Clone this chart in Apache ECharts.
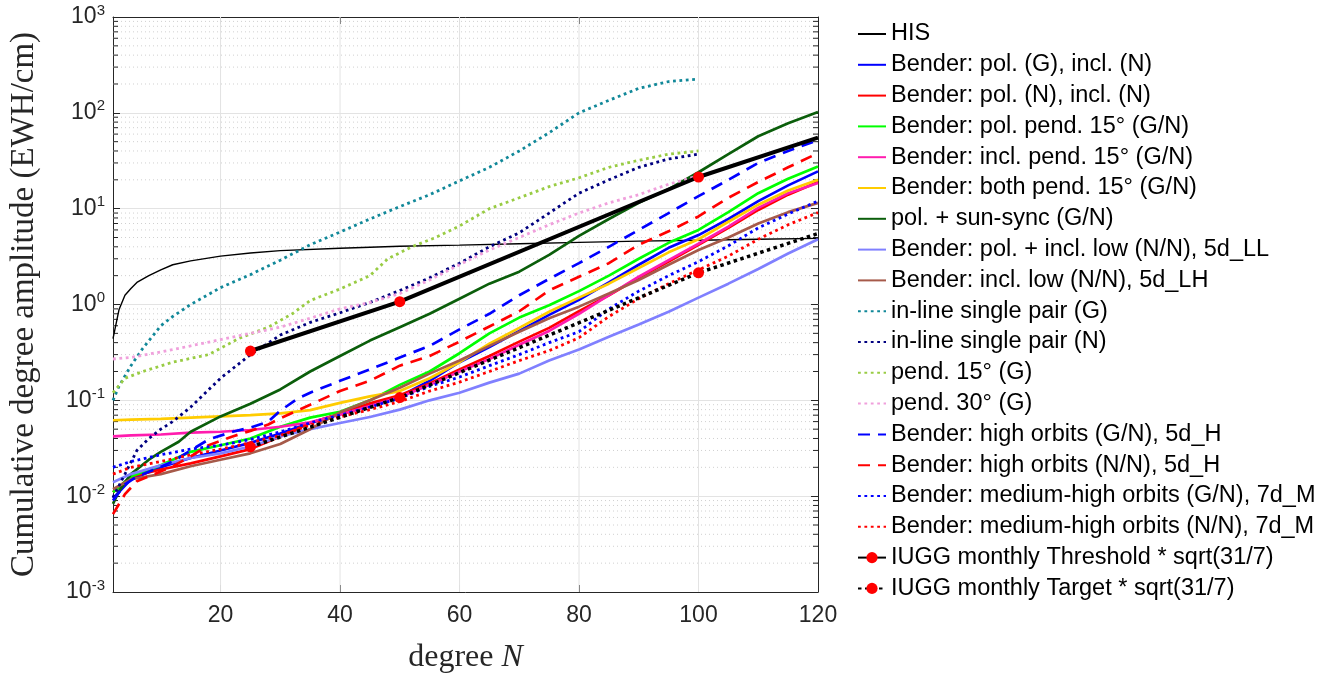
<!DOCTYPE html>
<html>
<head>
<meta charset="utf-8">
<script src="https://cdn.jsdelivr.net/npm/echarts@6/dist/echarts.min.js"></script>
<style>html,body{margin:0;padding:0;background:#fff;}#c{width:1342px;height:679px;}</style>
</head>
<body>
<div id="c"></div>
<script>
// ---------- data ----------
const xTicks = [20, 40, 60, 80, 100, 120];
const yDecades = [0.001, 0.01, 0.1, 1, 10, 100, 1000];

const N5 = [2,5,10,15,20,25,30,35,40,45,50,55,60,65,70,75,80,85,90,95,100,105,110,115,120];

const nHIS = [2,3,4,5,6,8,10,12,15,20,25,30,40,50,60,70,80,90,100,110,120];
const vHIS = [0.44,0.88,1.25,1.47,1.7,2.0,2.3,2.6,2.85,3.2,3.45,3.65,3.87,4.05,4.16,4.3,4.45,4.58,4.68,4.8,4.9];

const vBlueSolid = [0.0095,0.015,0.02,0.025,0.03,0.036,0.045,0.058,0.072,0.088,0.11,0.16,0.25,0.36,0.53,0.78,1.12,1.7,2.6,3.9,5.3,7.8,12,17.5,24.5];
const vRedSolid  = [0.011,0.016,0.019,0.022,0.026,0.031,0.042,0.058,0.073,0.093,0.113,0.15,0.21,0.29,0.41,0.57,0.85,1.25,1.9,2.8,4.2,6.3,9.7,14,19];
const vLime      = [0.011,0.016,0.021,0.029,0.034,0.04,0.053,0.066,0.076,0.1,0.145,0.2,0.31,0.5,0.73,0.98,1.38,2.0,3.0,4.4,6.0,9.2,14.5,20.5,27.5];
const vMagenta   = [0.042,0.043,0.044,0.046,0.047,0.049,0.053,0.059,0.071,0.087,0.108,0.145,0.2,0.27,0.38,0.53,0.8,1.25,1.95,2.9,4.3,6.5,10.2,14.5,18.5];
const vGold      = [0.062,0.063,0.064,0.066,0.068,0.07,0.073,0.079,0.094,0.11,0.125,0.17,0.25,0.39,0.57,0.84,1.18,1.65,2.4,3.5,4.8,7.3,11,15.5,20];
const vLowLL     = [0.014,0.017,0.021,0.025,0.028,0.033,0.042,0.05,0.058,0.067,0.08,0.1,0.12,0.153,0.19,0.26,0.34,0.46,0.62,0.84,1.18,1.65,2.35,3.4,4.8];
const vLowLH     = [0.0118,0.015,0.017,0.0205,0.024,0.028,0.035,0.05,0.075,0.1,0.135,0.19,0.26,0.37,0.52,0.72,0.95,1.3,1.8,2.6,3.7,5.0,7.0,9.2,11.5];
const vMedG      = [0.02,0.023,0.027,0.031,0.034,0.039,0.047,0.058,0.07,0.085,0.105,0.14,0.175,0.23,0.3,0.4,0.52,0.9,1.38,2.0,2.8,4.1,6.3,8.8,12];
const vMedN      = [0.017,0.02,0.023,0.027,0.031,0.036,0.043,0.055,0.067,0.08,0.097,0.125,0.155,0.2,0.26,0.33,0.45,0.75,1.15,1.65,2.3,3.2,4.8,6.8,9.1];

const nSun = [2,3,5,8,10,13,15,20,25,30,35,40,45,50,55,60,65,70,75,80,85,90,95,100,105,110,115,120];
const vSun = [0.0083,0.0113,0.017,0.024,0.029,0.037,0.047,0.068,0.092,0.13,0.2,0.29,0.42,0.58,0.8,1.15,1.65,2.2,3.3,5.2,7.8,11.5,16,24,37,57,78,102];

const nInG = [2,3,4,5,7,10,12,15,20,25,30,35,40,45,50,55,60,65,70,75,80,85,90,95,100];
const vInG = [0.1,0.14,0.18,0.23,0.35,0.6,0.75,1.0,1.5,2.05,2.9,4.2,5.7,7.8,10.5,14,19.5,27,40,62,100,135,180,212,225];

const nInN = [2,4,6,8,10,12,15,20,25,30,35,40,45,50,55,60,65,70,75,80,85,90,95,100];
const vInN = [0.0097,0.017,0.03,0.04,0.05,0.06,0.085,0.17,0.3,0.48,0.65,0.82,1.05,1.4,1.9,2.7,4.0,5.6,9,14.5,20,27,33,37];

const nP15 = [2,4,7,12,18,23,28,32,35,40,45,48,52,56,60,65,70,75,80,85,90,95,100];
const vP15 = [0.12,0.17,0.2,0.25,0.3,0.44,0.58,0.8,1.1,1.45,2.0,3.0,4.0,5.0,6.6,10,13,17,21,27,32,37,40];

const nP30 = [2,5,10,15,20,25,30,35,40,45,50,55,60,65,70,75,80,85,90,95,100];
const vP30 = [0.27,0.28,0.32,0.37,0.43,0.5,0.58,0.72,0.9,1.05,1.3,1.8,2.6,3.7,5,6.8,9,11.5,14,18,22];

const nHighG = [2,4,6,9,12,15,18,22,25,28,30,33,35,40,45,50,55,60,65,70,75,80,85,90,95,100,105,110,115,120];
const vHighG = [0.009,0.0133,0.016,0.019,0.023,0.03,0.039,0.047,0.052,0.06,0.078,0.105,0.12,0.16,0.21,0.28,0.37,0.55,0.8,1.25,1.85,2.7,4.0,6.0,9,13.5,20,30,40,52];

const nHighN = [2,4,6,9,12,15,18,22,25,28,30,35,40,45,50,55,60,65,70,75,80,85,90,95,100,105,110,115,120];
const vHighN = [0.0065,0.0105,0.0143,0.017,0.0205,0.026,0.034,0.042,0.048,0.056,0.065,0.09,0.125,0.16,0.23,0.29,0.41,0.59,0.85,1.4,1.95,2.7,4.2,5.8,8.3,13,19,27,38];

const nIUGG = [25, 50, 100, 120];
const vThreshold = [0.327, 1.07, 21.4, 55];
const vTarget = [0.0327, 0.107, 2.14, 5.5];

// ---------- helpers ----------
const X_MIN = 2, X_MAX = 120;
function zip(n, v) { return n.map((x, i) => [x, v[i]]); }
function iugg(n, v) { return n.map((x, i) => (x === 120 ? { value: [x, v[i]], symbol: 'none' } : [x, v[i]])); }
const minorVals = [];
for (let d = 0; d < yDecades.length - 1; d++) for (let m = 2; m <= 9; m++) minorVals.push([X_MIN, yDecades[d] * m]);
const majorX = xTicks.filter(t => t < X_MAX).map(t => [t, 1]);

const DOT = [2.8, 3.6];
const DASH = [12, 8];
const LW = 2.7;
function ln(name, color, data, width, type, extra) {
  return Object.assign({
    name, type: 'line', data, symbol: 'none', showSymbol: false,
    lineStyle: { color, width, type: type || 'solid' }, itemStyle: { color },
    z: 3, silent: true
  }, extra || {});
}

const series = [
  ln('HIS', '#000000', zip(nHIS, vHIS), 1.4),
  ln('Bender: pol. (G), incl. (N)', '#0000FF', zip(N5, vBlueSolid), LW),
  ln('Bender: pol. (N), incl. (N)', '#FF0000', zip(N5, vRedSolid), LW),
  ln('Bender: pol. pend. 15° (G/N)', '#00FF00', zip(N5, vLime), LW),
  ln('Bender: incl. pend. 15° (G/N)', '#FF1CAE', zip(N5, vMagenta), LW),
  ln('Bender: both pend. 15° (G/N)', '#FFCC00', zip(N5, vGold), LW),
  ln('pol. + sun-sync (G/N)', '#0B5E0B', zip(nSun, vSun), LW),
  ln('Bender: pol. + incl. low (N/N), 5d_LL', '#8080FF', zip(N5, vLowLL), LW),
  ln('Bender: incl. low (N/N), 5d_LH', '#A65A4A', zip(N5, vLowLH), LW),
  ln('in-line single pair (G)', '#118899', zip(nInG, vInG), 2.8, DOT),
  ln('in-line single pair (N)', '#000080', zip(nInN, vInN), 2.8, DOT),
  ln('pend. 15° (G)', '#99CC44', zip(nP15, vP15), 2.8, DOT),
  ln('pend. 30° (G)', '#F0A0DC', zip(nP30, vP30), 2.8, DOT),
  ln('Bender: high orbits (G/N), 5d_H', '#0000FF', zip(nHighG, vHighG), LW, DASH),
  ln('Bender: high orbits (N/N), 5d_H', '#FF0000', zip(nHighN, vHighN), LW, DASH),
  ln('Bender: medium-high orbits (G/N), 7d_M', '#0000FF', zip(N5, vMedG), 2.8, DOT),
  ln('Bender: medium-high orbits (N/N), 7d_M', '#FF0000', zip(N5, vMedN), 2.8, DOT),
  {
    name: 'IUGG monthly Threshold * sqrt(31/7)', type: 'line', data: iugg(nIUGG, vThreshold),
    symbol: 'circle', symbolSize: 11, showSymbol: true, showAllSymbol: true,
    lineStyle: { color: '#000000', width: 4 }, itemStyle: { color: '#FF0000', borderWidth: 0 }, z: 4, silent: true
  },
  {
    name: 'IUGG monthly Target * sqrt(31/7)', type: 'line', data: iugg(nIUGG, vTarget),
    symbol: 'circle', symbolSize: 11, showSymbol: true, showAllSymbol: true,
    lineStyle: { color: '#000000', width: 3.5, type: [3.5, 3.5] }, itemStyle: { color: '#FF0000', borderWidth: 0 }, z: 4, silent: true
  },
  {
    type: 'custom', silent: true, z: 1, data: minorVals, clip: false,
    renderItem: function (params, api) {
      const v = api.value(1);
      const a = api.coord([X_MIN, v]), b = api.coord([X_MAX, v]);
      return { type: 'group', children: [
        { type: 'line', shape: { x1: a[0], y1: a[1], x2: b[0], y2: b[1] }, style: { stroke: '#d0d0d0', lineWidth: 1, lineDash: [1, 3] } },
        { type: 'line', shape: { x1: a[0], y1: a[1], x2: a[0] + 5, y2: a[1] }, style: { stroke: '#262626', lineWidth: 1 } },
        { type: 'line', shape: { x1: b[0], y1: b[1], x2: b[0] - 5, y2: b[1] }, style: { stroke: '#262626', lineWidth: 1 } }
      ] };
    }
  },
  {
    type: 'custom', silent: true, z: 1, data: majorX, clip: false,
    renderItem: function (params, api) {
      const x = api.value(0);
      const a = api.coord([x, 0.001]), b = api.coord([x, 1000]);
      return { type: 'line', shape: { x1: a[0], y1: a[1], x2: b[0], y2: b[1] }, style: { stroke: '#e3e3e3', lineWidth: 1 } };
    }
  }
];

const legendData = series.filter(s => s.type === 'line').map(s =>
  s.symbol === 'none' ? { name: s.name, itemStyle: { opacity: 0 } } : { name: s.name });

const axisCol = '#262626';
const option = {
  animation: false,
  backgroundColor: '#ffffff',
  grid: { left: 106, right: 524, top: 17, bottom: 81, containLabel: false },
  legend: {
    data: legendData, orient: 'vertical', left: 857, top: 22, padding: 0,
    itemWidth: 28, itemHeight: 14, itemGap: 6.8, selectedMode: false,
    textStyle: { fontFamily: 'Liberation Sans', fontSize: 23.5, lineHeight: 24, color: '#000' }
  },
  xAxis: [
    {
      type: 'value', min: X_MIN, max: X_MAX, position: 'bottom',
      name: '{a|degree }{i|N}', nameLocation: 'middle', nameGap: 50,
      nameTextStyle: { rich: {
        a: { fontFamily: 'Liberation Serif', fontSize: 32, color: '#262626' },
        i: { fontFamily: 'Liberation Serif', fontStyle: 'italic', fontSize: 32, color: '#262626' }
      } },
      axisLine: { show: true, lineStyle: { color: axisCol, width: 1 } },
      axisTick: { show: true, inside: true, length: 7, customValues: xTicks, lineStyle: { color: axisCol } },
      axisLabel: { customValues: xTicks, fontFamily: 'Liberation Sans', fontSize: 23, color: axisCol, margin: 12 },
      splitLine: { show: false }
    },
    {
      type: 'value', min: X_MIN, max: X_MAX, position: 'top',
      axisLine: { show: true, lineStyle: { color: axisCol, width: 1 } },
      axisTick: { show: true, inside: true, length: 7, customValues: xTicks, lineStyle: { color: axisCol } },
      axisLabel: { show: false }, splitLine: { show: false }
    }
  ],
  yAxis: [
    {
      type: 'log', logBase: 10, min: 0.001, max: 1000, splitNumber: 6, position: 'left',
      name: 'Cumulative degree amplitude (EWH/cm)', nameLocation: 'middle', nameGap: 72,
      nameTextStyle: { fontFamily: 'Liberation Serif', fontSize: 33, color: '#262626' },
      axisLine: { show: true, lineStyle: { color: axisCol, width: 1 } },
      axisTick: { show: true, inside: true, length: 7, lineStyle: { color: axisCol } },
      axisLabel: {
        margin: 8, color: axisCol,
        formatter: function (v) { const e = Math.round(Math.log10(v)); return '{b|10}{s|' + e + '}'; },
        rich: {
          b: { fontFamily: 'Liberation Sans', fontSize: 23, lineHeight: 28, color: axisCol },
          s: { fontFamily: 'Liberation Sans', fontSize: 15, lineHeight: 15, verticalAlign: 'top', color: axisCol }
        }
      },
      splitLine: { show: true, lineStyle: { color: '#e3e3e3', width: 1 } }
    },
    {
      type: 'log', logBase: 10, min: 0.001, max: 1000, splitNumber: 6, position: 'right',
      axisLine: { show: true, lineStyle: { color: axisCol, width: 1 } },
      axisTick: { show: true, inside: true, length: 7, lineStyle: { color: axisCol } },
      axisLabel: { show: false }, splitLine: { show: false }
    }
  ],
  series: series
};

const chart = echarts.init(document.getElementById('c'), null, { renderer: 'canvas' });
chart.setOption(option);
</script>
</body>
</html>
